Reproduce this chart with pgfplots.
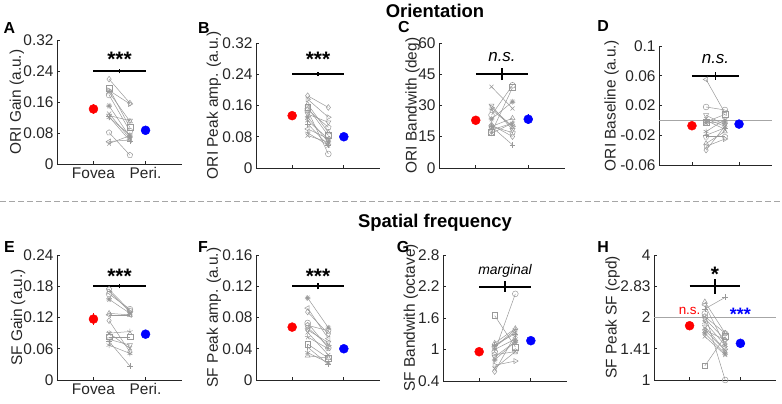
\documentclass[border=0pt]{standalone}
\usepackage{fontspec}
\setmainfont{Liberation Sans}
\usepackage{pgfplots}
\pgfplotsset{compat=1.18}
\usetikzlibrary{plotmarks}
\definecolor{axc}{rgb}{0.15,0.15,0.15}
\definecolor{subc}{rgb}{0.6,0.6,0.6}
\definecolor{refl}{rgb}{0.65,0.65,0.65}
\newcommand{\fs}[1]{\fontsize{#1}{#1}\selectfont}
\pgfplotsset{
 panel/.style={scale only axis, axis lines*=left, enlargelimits=false, clip=false,
   xmin=0.3, xmax=2.7, xtick={1,2}, xticklabels={},
   tick align=inside, major tick length=3bp,
   axis line style={axc, line width=0.7bp}, tick style={axc, line width=0.7bp},
   ticklabel style={font=\fs{15.5}, text=axc},
   /pgf/number format/assume math mode=true,
   every axis y label/.style={at={(axis description cs:#1,0.5)}, anchor=center, rotate=90, font=\fs{15.5}, text=axc}},
 subj/.style={color=subc, line width=0.5bp, mark size=2.9bp, mark options={solid, line width=0.5bp}},
 s1/.style={mark=o}, s2/.style={mark=square}, s3/.style={mark=diamond}, s4/.style={mark=triangle},
 s5/.style={mark=triangle, every mark/.append style={rotate=180}},
 s6/.style={mark=triangle, every mark/.append style={rotate=90}},
 s7/.style={mark=triangle, every mark/.append style={rotate=-90}},
 s8/.style={mark=10-pointed star}, s9/.style={mark=+}, s10/.style={mark=x},
 s11/.style={mark=asterisk}, s12/.style={mark=pentagon}, s13/.style={mark=star},
 meanr/.style={red, only marks, mark=*, mark size=4.5bp, error bars/.cd, y dir=both, y explicit, error mark=none, error bar style={red, line width=1bp}},
 meanb/.style={blue, only marks, mark=*, mark size=4.5bp, error bars/.cd, y dir=both, y explicit, error mark=none, error bar style={blue, line width=1bp}},
 sigbar/.style={black, line width=2bp, no marks},
 sigtick/.style={black, line width=1.6bp, no marks},
}
\newcommand{\subj}[3]{\addplot[subj,s#1] coordinates {(1.3,#2) (1.7,#3)};}
\newcommand{\stars}{\bfseries\fs{21}}
\begin{document}
\begin{tikzpicture}
\useasboundingbox (0,0) rectangle (782bp,-404bp);
% titles, separators, letters
\node[font=\bfseries\fs{18.5}, anchor=base] at (435bp,-17.5bp) {Orientation};
\node[font=\bfseries\fs{18.5}, anchor=base] at (435bp,-227bp) {Spatial frequency};
\draw[refl, dash pattern=on 6bp off 3bp, line width=1bp] (0,-201bp) -- (782bp,-201bp);
\node[font=\bfseries\fs{16}] at (9.5bp,-28bp) {A};
\node[font=\bfseries\fs{16}] at (204bp,-28bp) {B};
\node[font=\bfseries\fs{16}] at (404bp,-27bp) {C};
\node[font=\bfseries\fs{16}] at (603bp,-26bp) {D};
\node[font=\bfseries\fs{16}] at (9.5bp,-247bp) {E};
\node[font=\bfseries\fs{16}] at (203bp,-247bp) {F};
\node[font=\bfseries\fs{16}] at (403bp,-247bp) {G};
\node[font=\bfseries\fs{16}] at (603bp,-247bp) {H};

% ---------------- A
\begin{axis}[panel=-0.32, at={(57bp,-164bp)}, anchor=south west, width=125bp, height=124bp,
  ymin=0, ymax=0.32, ytick={0,0.08,0.16,0.24,0.32}, yticklabels={0,0.08,0.16,0.24,0.32},
  xticklabels={Fovea,Peri.}, ylabel={ORI Gain (a.u.)}]
\subj{1}{0.178}{0.085}\subj{2}{0.195}{0.094}\subj{3}{0.219}{0.157}\subj{4}{0.185}{0.110}
\subj{5}{0.125}{0.112}\subj{6}{0.058}{0.062}\subj{7}{0.190}{0.155}\subj{8}{0.150}{0.070}
\subj{9}{0.122}{0.060}\subj{10}{0.130}{0.066}\subj{11}{0.120}{0.075}\subj{12}{0.081}{0.023}
\subj{13}{0.053}{0.073}
\addplot[meanr] coordinates {(1,0.142) +- (0,0.012)};
\addplot[meanb] coordinates {(2,0.087) +- (0,0.005)};
\addplot[sigbar] coordinates {(1,0.24) (2,0.24)};
\addplot[sigtick] coordinates {(1.5,0.234) (1.5,0.246)};
\node[font=\stars, anchor=base] at (axis cs:1.5,0.2514) {***};
\end{axis}

% ---------------- B
\begin{axis}[panel=-0.34, at={(256bp,-168bp)}, anchor=south west, width=124bp, height=125bp,
  ymin=0, ymax=0.32, ytick={0,0.08,0.16,0.24,0.32}, yticklabels={0,0.08,0.16,0.24,0.32},
  ylabel={ORI Peak amp. (a.u.)}]
\subj{1}{0.147}{0.036}\subj{2}{0.155}{0.083}\subj{3}{0.185}{0.155}\subj{4}{0.163}{0.091}
\subj{5}{0.138}{0.117}\subj{6}{0.100}{0.075}\subj{7}{0.176}{0.130}\subj{8}{0.130}{0.066}
\subj{9}{0.113}{0.058}\subj{10}{0.083}{0.066}\subj{11}{0.121}{0.075}\subj{12}{0.150}{0.104}
\subj{13}{0.090}{0.058}
\addplot[meanr] coordinates {(1,0.134) +- (0,0.006)};
\addplot[meanb] coordinates {(2,0.080) +- (0,0.005)};
\addplot[sigbar] coordinates {(1,0.24) (2,0.24)};
\addplot[sigtick] coordinates {(1.5,0.235) (1.5,0.245)};
\node[font=\stars, anchor=base] at (axis cs:1.5,0.261) {***};
\end{axis}

% ---------------- C
\begin{axis}[panel=-0.21, at={(439bp,-168bp)}, anchor=south west, width=126bp, height=125bp,
  ymin=0, ymax=60, ytick={0,15,30,45,60}, yticklabels={0,15,30,45,60},
  ylabel={ORI Bandwith (deg)}]
\subj{1}{25.4}{39.7}\subj{2}{17.0}{38.6}\subj{3}{20.7}{15.1}\subj{4}{19.9}{23.9}
\subj{5}{30.0}{18.3}\subj{6}{18.3}{21.5}\subj{7}{29.0}{19.9}\subj{8}{23.5}{31.8}
\subj{9}{19.9}{11.1}\subj{10}{39.0}{28.6}\subj{11}{16.7}{21.5}\subj{12}{20.0}{17.0}
\subj{13}{28.0}{19.9}
\addplot[meanr] coordinates {(1,22.9) +- (0,1.5)};
\addplot[meanb] coordinates {(2,23.4) +- (0,2.5)};
\addplot[sigbar] coordinates {(1,45) (2,45)};
\addplot[sigtick] coordinates {(1.5,42.2) (1.5,47.8)};
\node[font=\itshape\fs{17}, anchor=base] at (axis cs:1.5,51.0) {n.s.};
\end{axis}

% ---------------- D
\begin{axis}[panel=-0.42, at={(659bp,-165bp)}, anchor=south west, width=113bp, height=119bp,
  ymin=-0.06, ymax=0.1, ytick={-0.06,-0.02,0.02,0.06,0.1}, yticklabels={-0.06,-0.02,0.02,0.06,0.1},
  ylabel={ORI Baseline (a.u.)}]
\addplot[refl, line width=0.8bp, no marks] coordinates {(0.3,0) (2.7,0)};
\subj{1}{0.018}{0.014}\subj{2}{-0.002}{0.008}\subj{3}{-0.040}{-0.008}\subj{4}{-0.031}{-0.015}
\subj{5}{0.007}{-0.006}\subj{6}{0.055}{0.010}\subj{7}{-0.035}{-0.025}\subj{8}{-0.003}{-0.002}
\subj{9}{-0.020}{-0.010}\subj{10}{0.002}{-0.008}\subj{11}{-0.015}{0.001}\subj{12}{-0.022}{-0.022}
\subj{13}{0.000}{-0.012}
\addplot[meanr] coordinates {(1,-0.0072) +- (0,0.005)};
\addplot[meanb] coordinates {(2,-0.005) +- (0,0.004)};
\addplot[sigbar] coordinates {(1,0.06) (2,0.06)};
\addplot[sigtick] coordinates {(1.5,0.0545) (1.5,0.0655)};
\node[font=\itshape\fs{17}, anchor=base] at (axis cs:1.5,0.0762) {n.s.};
\end{axis}

% ---------------- E
\begin{axis}[panel=-0.31, at={(57bp,-380bp)}, anchor=south west, width=125bp, height=125bp,
  ymin=0, ymax=0.24, ytick={0,0.06,0.12,0.18,0.24}, yticklabels={0,0.06,0.12,0.18,0.24},
  xticklabels={Fovea,Peri.}, ylabel={SF Gain (a.u.)}]
\subj{1}{0.165}{0.136}\subj{2}{0.083}{0.083}\subj{3}{0.114}{0.054}\subj{4}{0.128}{0.125}
\subj{5}{0.078}{0.067}\subj{6}{0.125}{0.125}\subj{7}{0.170}{0.131}\subj{8}{0.155}{0.128}
\subj{9}{0.074}{0.027}\subj{10}{0.090}{0.061}\subj{11}{0.067}{0.051}\subj{12}{0.174}{0.133}
\subj{13}{0.090}{0.093}
\addplot[meanr] coordinates {(1,0.117) +- (0,0.011)};
\addplot[meanb] coordinates {(2,0.088) +- (0,0.008)};
\addplot[sigbar] coordinates {(1,0.18) (2,0.18)};
\addplot[sigtick] coordinates {(1.5,0.176) (1.5,0.184)};
\node[font=\stars, anchor=base] at (axis cs:1.5,0.1857) {***};
\end{axis}

% ---------------- F
\begin{axis}[panel=-0.34, at={(256bp,-380bp)}, anchor=south west, width=124bp, height=125bp,
  ymin=0, ymax=0.16, ytick={0,0.04,0.08,0.12,0.16}, yticklabels={0,0.04,0.08,0.12,0.16},
  ylabel={SF Peak amp. (a.u.)}]
\subj{1}{0.073}{0.041}\subj{2}{0.046}{0.028}\subj{3}{0.087}{0.059}\subj{4}{0.031}{0.028}
\subj{5}{0.064}{0.048}\subj{6}{0.092}{0.053}\subj{7}{0.067}{0.044}\subj{8}{0.105}{0.067}
\subj{9}{0.042}{0.020}\subj{10}{0.061}{0.032}\subj{11}{0.035}{0.022}\subj{12}{0.070}{0.063}
\subj{13}{0.055}{0.040}
\addplot[meanr] coordinates {(1,0.0677) +- (0,0.004)};
\addplot[meanb] coordinates {(2,0.040) +- (0,0.003)};
\addplot[sigbar] coordinates {(1,0.12) (2,0.12)};
\addplot[sigtick] coordinates {(1.5,0.116) (1.5,0.124)};
\node[font=\stars, anchor=base] at (axis cs:1.5,0.1239) {***};
\end{axis}

% ---------------- G
\begin{axis}[panel=-0.26, at={(443bp,-381bp)}, anchor=south west, width=124bp, height=126bp,
  ymin=0.4, ymax=2.8, ytick={0.4,1,1.6,2.2,2.8}, yticklabels={0.4,1,1.6,2.2,2.8},
  ylabel={SF Bandwith (octave)}]
\subj{1}{0.96}{2.06}\subj{2}{1.645}{1.05}\subj{3}{0.58}{1.28}\subj{4}{1.12}{1.40}
\subj{5}{0.86}{1.15}\subj{6}{1.05}{1.34}\subj{7}{0.70}{0.78}\subj{8}{0.80}{1.15}
\subj{9}{1.09}{1.30}\subj{10}{0.64}{0.96}\subj{11}{1.00}{1.20}\subj{12}{0.90}{0.96}
\subj{13}{1.05}{1.38}
\addplot[meanr] coordinates {(1,0.958) +- (0,0.04)};
\addplot[meanb] coordinates {(2,1.168) +- (0,0.07)};
\addplot[sigbar] coordinates {(1,2.2) (2,2.2)};
\addplot[sigtick] coordinates {(1.5,2.1) (1.5,2.3)};
\node[font=\itshape\fs{14}, anchor=base] at (axis cs:1.5,2.432) {marginal};
\end{axis}

% ---------------- H
\begin{axis}[panel=-0.34, at={(654bp,-380bp)}, anchor=south west, width=122bp, height=125bp,
  ymode=log, log basis y=2, ymin=1, ymax=4, ytick={1,1.41421,2,2.82843,4}, yticklabels={1,1.41,2,2.83,4},
  ylabel={SF Peak SF (cpd)}]
\addplot[refl, line width=0.8bp, no marks] coordinates {(0.3,2) (2.7,2)};
\subj{1}{2.09}{1.0}\subj{2}{1.17}{1.62}\subj{3}{1.74}{1.56}\subj{4}{2.38}{1.68}
\subj{5}{1.81}{1.39}\subj{6}{2.30}{1.47}\subj{7}{1.98}{1.56}\subj{8}{1.68}{1.34}
\subj{9}{2.20}{2.50}\subj{10}{1.62}{1.32}\subj{11}{1.90}{1.47}\subj{12}{2.02}{1.68}
\subj{13}{1.74}{1.39}
\addplot[meanr] coordinates {(1,1.826) +- (0,0.05)};
\addplot[meanb] coordinates {(2,1.502) +- (0,0.05)};
\addplot[sigbar] coordinates {(1,2.83) (2,2.83)};
\addplot[sigtick] coordinates {(1.5,2.61) (1.5,3.08)};
\node[font=\stars, anchor=base] at (axis cs:1.5,2.98) {*};
\node[font=\fs{13.5}, text=red, anchor=base] at (axis cs:1,2.075) {n.s.};
\node[font=\bfseries\fs{18}, text=blue, anchor=base] at (axis cs:2,1.937) {***};
\end{axis}
\end{tikzpicture}
\end{document}
